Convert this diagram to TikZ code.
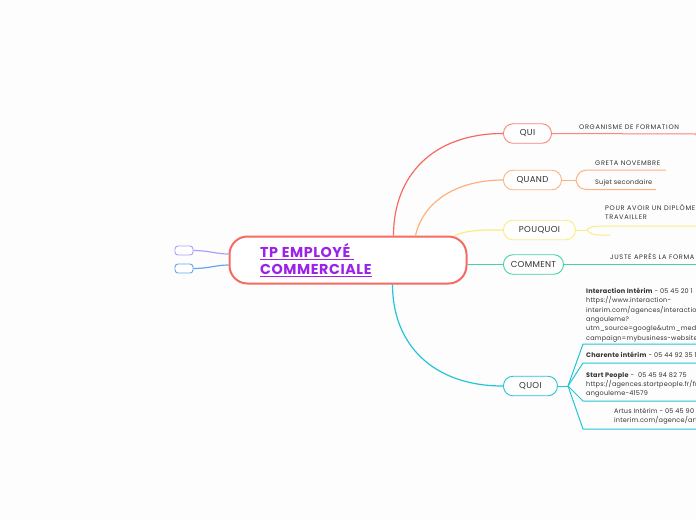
\documentclass[tikz,border=0pt]{standalone}
\usepackage{fontspec}
\setmainfont{Poppins}
\usetikzlibrary{calc}
\definecolor{cred}{HTML}{F56B63}
\definecolor{cpink}{HTML}{F8857F}
\definecolor{corange}{HTML}{FDB27E}
\definecolor{cyellow}{HTML}{F9EC82}
\definecolor{cgreen}{HTML}{45D3A5}
\definecolor{ccyan}{HTML}{22C5D6}
\definecolor{clav}{HTML}{A9A2F4}
\definecolor{cblue}{HTML}{62A6EF}
\definecolor{cpurple}{HTML}{9B22E8}
\definecolor{ctext}{HTML}{333333}
\definecolor{cbg}{HTML}{FDFDFD}
\begin{document}
\begin{tikzpicture}[x=1pt,y=-1pt,
  topic/.style={draw, fill=white, line width=0.9pt, rounded corners=9.5pt, minimum height=19.5pt, inner sep=0pt, anchor=west, font=\fontsize{8.6}{10}\selectfont\addfontfeatures{LetterSpace=4}, text=ctext},
  conn/.style={line width=1.2pt},
  subl/.style={line width=1pt},
  lbl/.style={inner sep=0pt, font=\fontsize{6.5}{9.3}\selectfont\addfontfeatures{LetterSpace=3}, text=ctext, align=left},
  caps/.style={lbl, font=\fontsize{6.6}{9.3}\selectfont\addfontfeatures{LetterSpace=10}},
  tiny/.style={draw, fill=white, line width=0.9pt, rounded corners=3pt, minimum width=18pt, minimum height=9pt, inner sep=0pt}
]
\useasboundingbox[fill=cbg] (0,0) rectangle (696,520);

% central
\node[draw=cred, line width=2pt, fill=white, rounded corners=18pt, minimum width=237pt, minimum height=47pt] (c) at (348,260) {};
\node[anchor=west, inner sep=0pt, align=left, font=\fontsize{14.3}{17}\selectfont\bfseries\addfontfeatures{LetterSpace=4}, text=cpurple] (title) at (260,260) {\underline{TP EMPLOYÉ\ }\\\underline{COMMERCIALE}};

% left small nodes
\node[tiny, draw=clav] (lav) at (184,250.5) {};
\node[tiny, draw=cblue] (blu) at (184,268.5) {};
\draw[conn, clav] (lav.east) .. controls +(15,0) and +(-12,0) .. ([yshift=6pt]c.west);
\draw[conn, cblue] (blu.east) .. controls +(15,0) and +(-12,0) .. ([yshift=-5pt]c.west);

% topics
\node[topic, draw=cpink, minimum width=48pt] (qui) at (503,133.5) {QUI};
\node[topic, draw=corange, minimum width=58pt] (quand) at (503,180) {QUAND};
\node[topic, draw=cyellow, minimum width=72pt] (pouquoi) at (503,230) {POUQUOI};
\node[topic, draw=cgreen, minimum width=60pt] (comment) at (503,264.5) {COMMENT};
\node[topic, draw=ccyan, minimum width=54pt] (quoi) at (503,386) {QUOI};

% main connectors
\draw[conn, cred] ([xshift=165pt]c.north west) .. controls +(0,-60) and +(-70,0) .. (qui.west);
\draw[conn, corange] ([xshift=187pt]c.north west) .. controls +(8,-35) and +(-45,0) .. (quand.west);
\draw[conn, cyellow] ([xshift=226pt]c.north west) .. controls +(15,-6) and +(-20,0) .. (pouquoi.west);
\draw[conn, cgreen] (c.east |- comment.west) -- (comment.west);
\draw[conn, ccyan] ([xshift=164pt]c.south west) .. controls +(0,60) and +(-70,0) .. (quoi.west);

% QUI child
\node[draw=cpink, line width=1pt, rounded corners=7pt, minimum width=40pt, minimum height=14pt, anchor=west, inner sep=0pt] (quinext) at (695.5,134) {};
\draw[subl, cpink] (qui.east) -- (quinext.west);
\node[caps, anchor=base west] (org) at (579,129.5) {ORGANISME DE FORMATION};

% QUAND children
\coordinate (qb) at (576,180);
\coordinate (qbu) at (666,170);
\coordinate (qbl) at (656,189.5);
\draw[subl, corange] (quand.east) -- (qb);
\draw[subl, corange] (qb) .. controls (578,171) and (582,170) .. (591,170) -- (qbu);
\draw[subl, corange] (qb) .. controls (578,189) and (582,189.5) .. (591,189.5) -- (qbl);
\node[caps, anchor=base west] (greta) at (595,165) {GRETA NOVEMBRE};
\node[lbl, anchor=base west] (sujet) at (595,184) {Sujet secondaire};

% POUQUOI children
\coordinate (pb) at (587,230);
\coordinate (pbu) at (700,226);
\coordinate (pbl) at (610,235);
\draw[subl, cyellow] (pouquoi.east) -- (pb);
\draw[subl, cyellow] (pb) .. controls (590,226.5) and (594,226) .. (600,226) -- (pbu);
\draw[subl, cyellow] (pb) .. controls (590,234) and (594,235) .. (600,235) -- (pbl);
\node[caps, anchor=base west] (pour) at (605,210.5) {POUR AVOIR UN DIPLÔME};
\node[caps, anchor=base west] (trav) at (605,219.5) {TRAVAILLER};

% COMMENT child
\coordinate (cmend) at (700,264.5);
\draw[subl, cgreen] (comment.east) -- (cmend);
\node[caps, anchor=base west] (juste) at (610,259.5) {JUSTE APRÈS LA FORMA};

% QUOI children
\coordinate (qo) at (568,386);
\coordinate (k1) at (583,344); \coordinate (e1) at (700,344);
\coordinate (k2) at (583,363); \coordinate (e2) at (700,363);
\coordinate (k3) at (583,401); \coordinate (e3) at (700,401);
\coordinate (k4) at (583,429); \coordinate (e4) at (700,429);
\draw[subl, ccyan] (quoi.east) -- (qo);
\draw[subl, ccyan] (qo) -- (k1) -- (e1);
\draw[subl, ccyan] (qo) -- (k2) -- (e2);
\draw[subl, ccyan] (qo) -- (k3) -- (e3);
\draw[subl, ccyan] (qo) -- (k4) -- (e4);

\node[lbl, anchor=north west] (inter) at (586,288) {\textbf{Interaction Intérim} - 05 45 20 1\\https://www.interaction-\\interim.com/agences/interaction\\angouleme?\\utm\_source=google\&utm\_medi\\campaign=mybusiness-website};
\node[lbl, anchor=north west] (char) at (586,352) {\textbf{Charente intérim} - 05 44 92 35 1};
\node[lbl, anchor=north west] (start) at (586,372) {\textbf{Start People} -~ 05 45 94 82 75\\https://agences.startpeople.fr/fr\\angouleme-41579};
\node[lbl, anchor=north west] (artus) at (614,408) {Artus Intérim - 05 45 90\\interim.com/agence/art};
\end{tikzpicture}
\end{document}
